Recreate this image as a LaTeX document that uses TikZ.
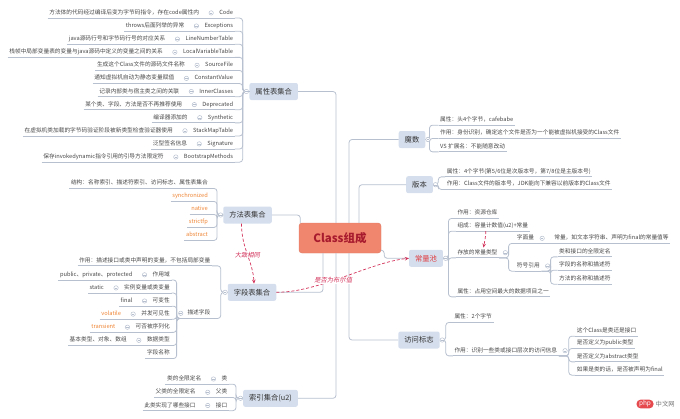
\documentclass[tikz,border=0pt]{standalone}
\usepackage{fontspec}
\setmainfont{Noto Sans CJK SC}
\newfontfamily\slantfont{Noto Sans CJK SC}[FakeSlant=0.2]
\usepackage{xcolor}
\usepackage{tikz}
\usetikzlibrary{positioning,calc,arrows.meta}
\definecolor{linegray}{HTML}{B7C0CF}
\definecolor{topicfill}{HTML}{D5DEEC}
\definecolor{topictext}{HTML}{333333}
\definecolor{leaftext}{HTML}{474747}
\definecolor{accent}{HTML}{EE8434}
\definecolor{relred}{HTML}{D3325A}
\definecolor{rootfill}{HTML}{F0866D}
\definecolor{roottext}{HTML}{A81B2F}
\definecolor{pooltext}{HTML}{E03A3E}
\definecolor{phpred}{HTML}{E5484D}
\newcommand{\lpair}[6][]{%
    % #1=desc style, #2=name, #3=east x, #4=y, #5=key, #6=description
    \node[leaf, anchor=east] (#2) at (#3,#4) {#5};
    \node[fold, left=4pt of #2] (#2f) {};
    \node[leaf, #1, left=8pt of #2f] (#2d) {#6};
    \draw[ln] (#2d.south west) -- (#2.south east);
}
\newcommand{\rpair}[6][]{%
    % #1=desc style, #2=name, #3=west x, #4=y, #5=key, #6=description
    \node[leaf, anchor=west] (#2) at (#3,#4) {#5};
    \node[fold, right=4pt of #2] (#2f) {};
    \node[leaf, #1, right=8pt of #2f] (#2d) {#6};
    \draw[ln] (#2.south west) -- (#2d.south east);
}
\newcommand{\lleaf}[5][]{%
    % #1=style, #2=name, #3=east x, #4=y, #5=text
    \node[leaf, #1, anchor=east] (#2) at (#3,#4) {#5};
    \draw[ln] (#2.south west) -- (#2.south east);
}
\newcommand{\rleaf}[4]{%
    % #1=name, #2=west x, #3=y, #4=text
    \node[leaf, anchor=west] (#1) at (#2,#3) {#4};
    \draw[ln] (#1.south west) -- (#1.south east);
}

\begin{document}
\begin{tikzpicture}[x=1pt, y=-1pt,
    ln/.style={draw=linegray, line width=0.8pt, rounded corners=3pt},
    topic/.style={rectangle, rounded corners=2pt, fill=topicfill, text=topictext, font=\fontsize{7.3}{9}\selectfont, minimum height=17pt, inner xsep=6pt},
    root/.style={rectangle, rounded corners=3pt, fill=rootfill, draw=rootfill!92!black, line width=0.4pt, text=roottext, font=\fontsize{11.5}{13}\selectfont\bfseries, minimum width=82pt, minimum height=30pt},
    leaf/.style={inner xsep=1.5pt, inner ysep=2pt, text height=4.5pt, text depth=1.4pt, font=\fontsize{5.7}{7}\selectfont, text=leaftext},
    hot/.style={text=accent},
    fold/.style={circle, draw=linegray, fill=white, line width=0.5pt, minimum size=4.4pt, inner sep=0pt,
        path picture={\draw[linegray, line width=0.4pt] ([xshift=-1.3pt]path picture bounding box.center) -- ([xshift=1.3pt]path picture bounding box.center);}},
    relation/.style={draw=relred, densely dashed, line width=0.7pt, -{Stealth[length=4pt, width=3.5pt]}},
    rellabel/.style={font=\slantfont\fontsize{6.3}{7}\selectfont, text=relred, fill=white, inner sep=0.8pt}
]
    \useasboundingbox (0,0) rectangle (680,418);

    \node[root] (class) at (340,238) {Class组成};

    \node[topic] (attr) at (273.7,91.5) {属性表集合};
    \node[topic] (method) at (247.5,215) {方法表集合};
    \node[topic] (field) at (252,292.3) {字段表集合};
    \node[topic] (index) at (270.5,398.3) {索引集合(u2)};
    \node[topic] (magic) at (412,139.5) {魔数};
    \node[topic] (version) at (419.5,184.7) {版本};
    \node[topic, text=pooltext] (pool) at (426,258.3) {常量池};
    \node[topic] (access) at (419,340) {访问标志};

    \draw[ln] ($(class.north)+(-4,0)$) |- (attr.east);
    \draw[ln] ($(class.south)+(-4,0)$) |- (index.east);
    \draw[ln] ($(class.north west)+(1.5,0)$) |- (method.east);
    \draw[ln] ($(class.south)+(-17,0)$) |- (field.east);
    \draw[ln] ($(class.north)+(9,0)$) |- (magic.west);
    \draw[ln] ($(class.south)+(9,0)$) |- (access.west);
    \draw[ln] ($(class.north)+(19,0)$) |- (version.west);
    \draw[ln] ([yshift=3pt]class.south east) -- ++(3,0) |- (pool.west);

    % attribute tables
    \lpair{a1}{234.8}{12.9}{Code}{方法体的代码经过编译后变为字节码指令，存在code属性内}
    \lpair{a2}{234.8}{26}{Exceptions}{throws后面列举的异常}
    \lpair{a3}{234.8}{39.1}{LineNumberTable}{java源码行号和字节码行号的对应关系}
    \lpair{a4}{234.8}{52.2}{LocalVariableTable}{栈帧中局部变量表的变量与java源码中定义的变量之间的关系}
    \lpair{a5}{234.8}{65.3}{SourceFile}{生成这个Class文件的源码文件名称}
    \lpair{a6}{234.8}{78.4}{ConstantValue}{通知虚拟机自动为静态变量赋值}
    \lpair{a7}{234.8}{91.5}{InnerClasses}{记录内部类与宿主类之间的关联}
    \lpair{a8}{234.8}{104.6}{Deprecated}{某个类、字段、方法是否不再推荐使用}
    \lpair{a9}{234.8}{117.7}{Synthetic}{编译器添加的}
    \lpair{a10}{234.8}{130.8}{StackMapTable}{在虚拟机类加载的字节码验证阶段被新类型检查验证器使用}
    \lpair{a11}{234.8}{143.9}{Signature}{泛型签名信息}
    \lpair{a12}{234.8}{157}{BootstrapMethods}{保存invokedynamic指令引用的引导方法限定符}
    \foreach \i in {1,...,12}
        \draw[ln] (attr.west) -- ++(-6.6,0) |- (a\i.south east);

    % methods
    \lleaf{m1}{209.5}{183.3}{结构：名称索引、描述符索引、访问标志、属性表集合}
    \lleaf[hot]{m2}{209.5}{196.3}{synchronized}
    \lleaf[hot]{m3}{209.5}{209.3}{native}
    \lleaf[hot]{m4}{209.5}{222.3}{strictfp}
    \lleaf[hot]{m5}{209.5}{235.3}{abstract}
    \foreach \i in {1,...,5}
        \draw[ln] (method.west) -- ++(-6,0) |- (m\i.south east);

    % fields
    \lleaf{f0}{212}{260.7}{作用：描述接口或类中声明的变量，不包括局部变量}
    \lleaf{fd}{212}{313.3}{描述字段}
    \lpair{f1}{171.5}{274.8}{作用域}{public、private、protected}
    \lpair{f2}{171.5}{287.9}{实例变量或类变量}{static}
    \lpair{f3}{171.5}{301}{可变性}{final}
    \lpair[hot]{f4}{171.5}{314.1}{并发可见性}{volatile}
    \lpair[hot]{f5}{171.5}{327.2}{可否被序列化}{transient}
    \lpair{f6}{171.5}{340.3}{数据类型}{基本类型、对象、数组}
    \lleaf{f7}{171.5}{353.4}{字段名称}
    \foreach \n in {f0,fd}
        \draw[ln] (field.west) -- ++(-6.8,0) |- (\n.south east);
    \foreach \i in {1,...,7}
        \draw[ln] (fd.south west) -- ++(-9.2,0) |- (f\i.south east);

    % index
    \lpair{x1}{229}{379}{类}{类的全限定名}
    \lpair{x2}{229}{392.3}{父类}{父类的全限定名}
    \lpair{x3}{229}{405.5}{接口}{此类实现了哪些接口}
    \foreach \i in {1,2,3}
        \draw[ln] (index.west) -- ++(-7,0) |- (x\i.south east);

    % magic number
    \rleaf{g1}{438.5}{120}{属性：头4个字节，cafebabe}
    \rleaf{g2}{438.5}{133.3}{作用：身份识别，确定这个文件是否为一个能被虚拟机接受的Class文件}
    \rleaf{g3}{438.5}{146.7}{VS 扩展名：不能随意改动}
    \foreach \i in {1,2,3}
        \draw[ln] (magic.east) -- ++(4,0) |- (g\i.south west);

    % version
    \rleaf{v1}{445.2}{171.7}{属性：4个字节(第5/6位是次版本号，第7/8位是主版本号)}
    \rleaf{v2}{445.2}{184.3}{作用：Class文件的版本号，JDK能向下兼容以前版本的Class文件}
    \foreach \i in {1,2}
        \draw[ln] (version.east) -- ++(5.3,0) |- (v\i.south west);

    % constant pool
    \rleaf{p1}{455.8}{213.3}{作用：资源仓库}
    \rleaf{p2}{455.8}{226}{组成：容量计数值(u2)+常量}
    \rleaf{p3}{455.8}{252.7}{存放的常量类型}
    \rleaf{p4}{455.8}{291.7}{属性：占用空间最大的数据项目之一}
    \rpair{lit}{515.2}{238.3}{字面量}{常量，如文本字符串、声明为final的常量值等}
    \rleaf{sym}{515.2}{266}{符号引用}
    \rleaf{s1}{557.5}{251.7}{类和接口的全限定名}
    \rleaf{s2}{557.5}{265}{字段的名称和描述符}
    \rleaf{s3}{557.5}{279}{方法的名称和描述符}
    \foreach \i in {1,...,4}
        \draw[ln] (pool.east) -- ++(5.3,0) |- (p\i.south west);
    \foreach \n in {lit,sym}
        \draw[ln] (p3.south east) -- ++(9.5,0) |- (\n.south west);
    \foreach \i in {1,2,3}
        \draw[ln] (sym.south east) -- ++(9.2,0) |- (s\i.south west);

    % access flags
    \rleaf{c1}{452.8}{317.3}{属性：2个字节}
    \rleaf{c2}{452.8}{350.7}{作用：识别一些类或接口层次的访问信息}
    \rleaf{c3}{575.2}{331}{这个Class是类还是接口}
    \rleaf{c4}{575.2}{343.3}{是否定义为public类型}
    \rleaf{c5}{575.2}{356.7}{是否定义为abstract类型}
    \rleaf{c6}{575.2}{370}{如果是类的话，是否被声明为final}
    \foreach \i in {1,2}
        \draw[ln] (access.east) -- ++(6,0) |- (c\i.south west);
    \foreach \i in {3,...,6}
        \draw[ln] (c2.south east) -- ++(10,0) |- (c\i.south west);

    % collapse marks
    \node[fold, left=0.4pt of attr] (attrf) {};
    \node[fold, left=0pt of method] (methodf) {};
    \node[fold, left=0pt of field] (fieldf) {};
    \node[fold, left=0pt of index] (indexf) {};
    \node[fold, right=0pt of magic] (magicf) {};
    \node[fold, right=0pt of version] (versionf) {};
    \node[fold, right=0pt of pool] (poolf) {};
    \node[fold, right=0pt of access] (accessf) {};
    \node[fold, left=2.6pt of fd] (fdf) {};
    \node[fold, right=3.8pt of p3] (p3f) {};
    \node[fold, right=3.8pt of sym] (symf) {};
    \node[fold, right=3.8pt of c2] (c2f) {};

    % relations
    \draw[relation] ([xshift=-6pt]method.south) .. controls +(0,25) and +(-1,-22) .. ([xshift=2pt]field.north)
        node[rellabel, pos=0.5] (same) {大致相同};
    \draw[relation] (field.east) .. controls +(43,0) and +(-39,4) .. (pool.west)
        node[rellabel, pos=0.42] (bool) {是否为布尔值};
    \draw[relation] ([xshift=-7pt]p2.south) .. controls +(0,5) and +(1,-5) .. ([xshift=6pt]p3.north);

    \node[rectangle, rounded corners=4pt, fill=phpred, text=white, font=\fontsize{6.5}{7}\selectfont, inner xsep=2.5pt, inner ysep=1pt] (php) at (645,404) {php};
    \node[anchor=west, text=gray!90!black, font=\fontsize{6.3}{7}\selectfont, inner sep=0pt] (phpcn) at (655.5,404) {中文网};
\end{tikzpicture}
\end{document}
